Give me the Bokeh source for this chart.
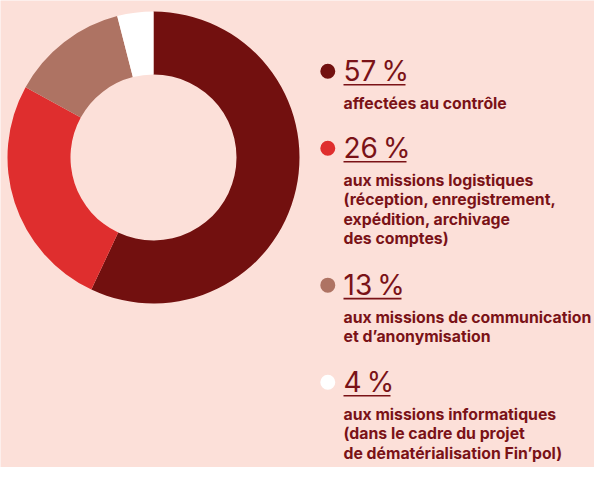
import numpy as np
from bokeh.plotting import figure
from bokeh.models import Range1d, ColumnDataSource
from bokeh.core.properties import value
from bokeh.embed import file_html
from bokeh.resources import INLINE

# ---- data ----
shares = [57, 26, 13, 4]
share_labels = ["57\u202f%", "26\u202f%", "13\u202f%", "4\u202f%"]
slice_colors = ["#72100f", "#df2e2e", "#ae7363", "#ffffff"]
descriptions = [
    ["affectées au contrôle"],
    ["aux missions logistiques", "(réception, enregistrement,", "expédition, archivage", "des comptes)"],
    ["aux missions de communication", "et d’anonymisation"],
    ["aux missions informatiques", "(dans le cadre du projet", "de dématérialisation Fin’pol)"],
]

# ---- layout (pixel space) ----
W, H = 594, 467
BG = "#fce0d9"
TXT = "#7a1217"
cx, cy = 153, 157
r_in, r_out = 83, 146
legend_x = 343
dot_x = 327.3
k = 0.955                                 # vertical squeeze of the legend
ref_baselines = [84.3, 165.0, 308.3, 410.0]
pct_baselines = [5 + (b - 5) * k for b in ref_baselines]
underline_w = [62, 63, 58, 47]
desc_gap = 29.3 * k
line_h = 20.3 * k
PCT_SIZE, DESC_SIZE = 28, 15.8
off = 0.37                                # svg text baseline compensation (em)

p = figure(width=W, height=H, output_backend="svg", toolbar_location=None,
           x_range=Range1d(0, W), y_range=Range1d(H, 0),
           min_border=0, outline_line_color=None,
           background_fill_color=BG, border_fill_color=BG)
p.axis.visible = False
p.grid.visible = False

# donut
fr = np.array(shares, dtype=float) / sum(shares)
cum = np.concatenate([[0], np.cumsum(fr)])
starts = np.pi / 2 - cum[:-1] * 2 * np.pi
ends = np.pi / 2 - cum[1:] * 2 * np.pi
src = ColumnDataSource(dict(x=[cx] * len(shares), y=[cy] * len(shares),
                            start=starts, end=ends, color=slice_colors))
p.annular_wedge(x="x", y="y", inner_radius=r_in, outer_radius=r_out,
                start_angle="start", end_angle="end", direction="clock",
                fill_color="color", line_color=None, source=src)

# legend
p.scatter(x=[dot_x] * len(shares), y=[b - 10 for b in pct_baselines], size=15,
          fill_color=slice_colors, line_color=None)
p.text(x=[legend_x] * len(shares), y=[b - off * PCT_SIZE for b in pct_baselines],
       text=share_labels, text_font=value("Inter"), text_font_size=f"{PCT_SIZE}px",
       text_color=TXT, text_baseline="alphabetic", text_align="left")
p.segment(x0=[legend_x] * len(shares), y0=[b + 3.5 for b in pct_baselines],
          x1=[legend_x + w for w in underline_w], y1=[b + 3.5 for b in pct_baselines],
          line_color=TXT, line_width=1.6)

dx, dy, dt = [], [], []
for b, lines in zip(pct_baselines, descriptions):
    for i, t in enumerate(lines):
        dx.append(legend_x)
        dy.append(b + desc_gap + i * line_h - off * DESC_SIZE)
        dt.append(t)
p.text(x=dx, y=dy, text=dt, text_font=value("Inter"), text_font_size=f"{DESC_SIZE}px",
       text_font_style="bold", text_color=TXT, text_baseline="alphabetic",
       text_align="left")

open("out.html", "w").write(file_html(p, INLINE))
